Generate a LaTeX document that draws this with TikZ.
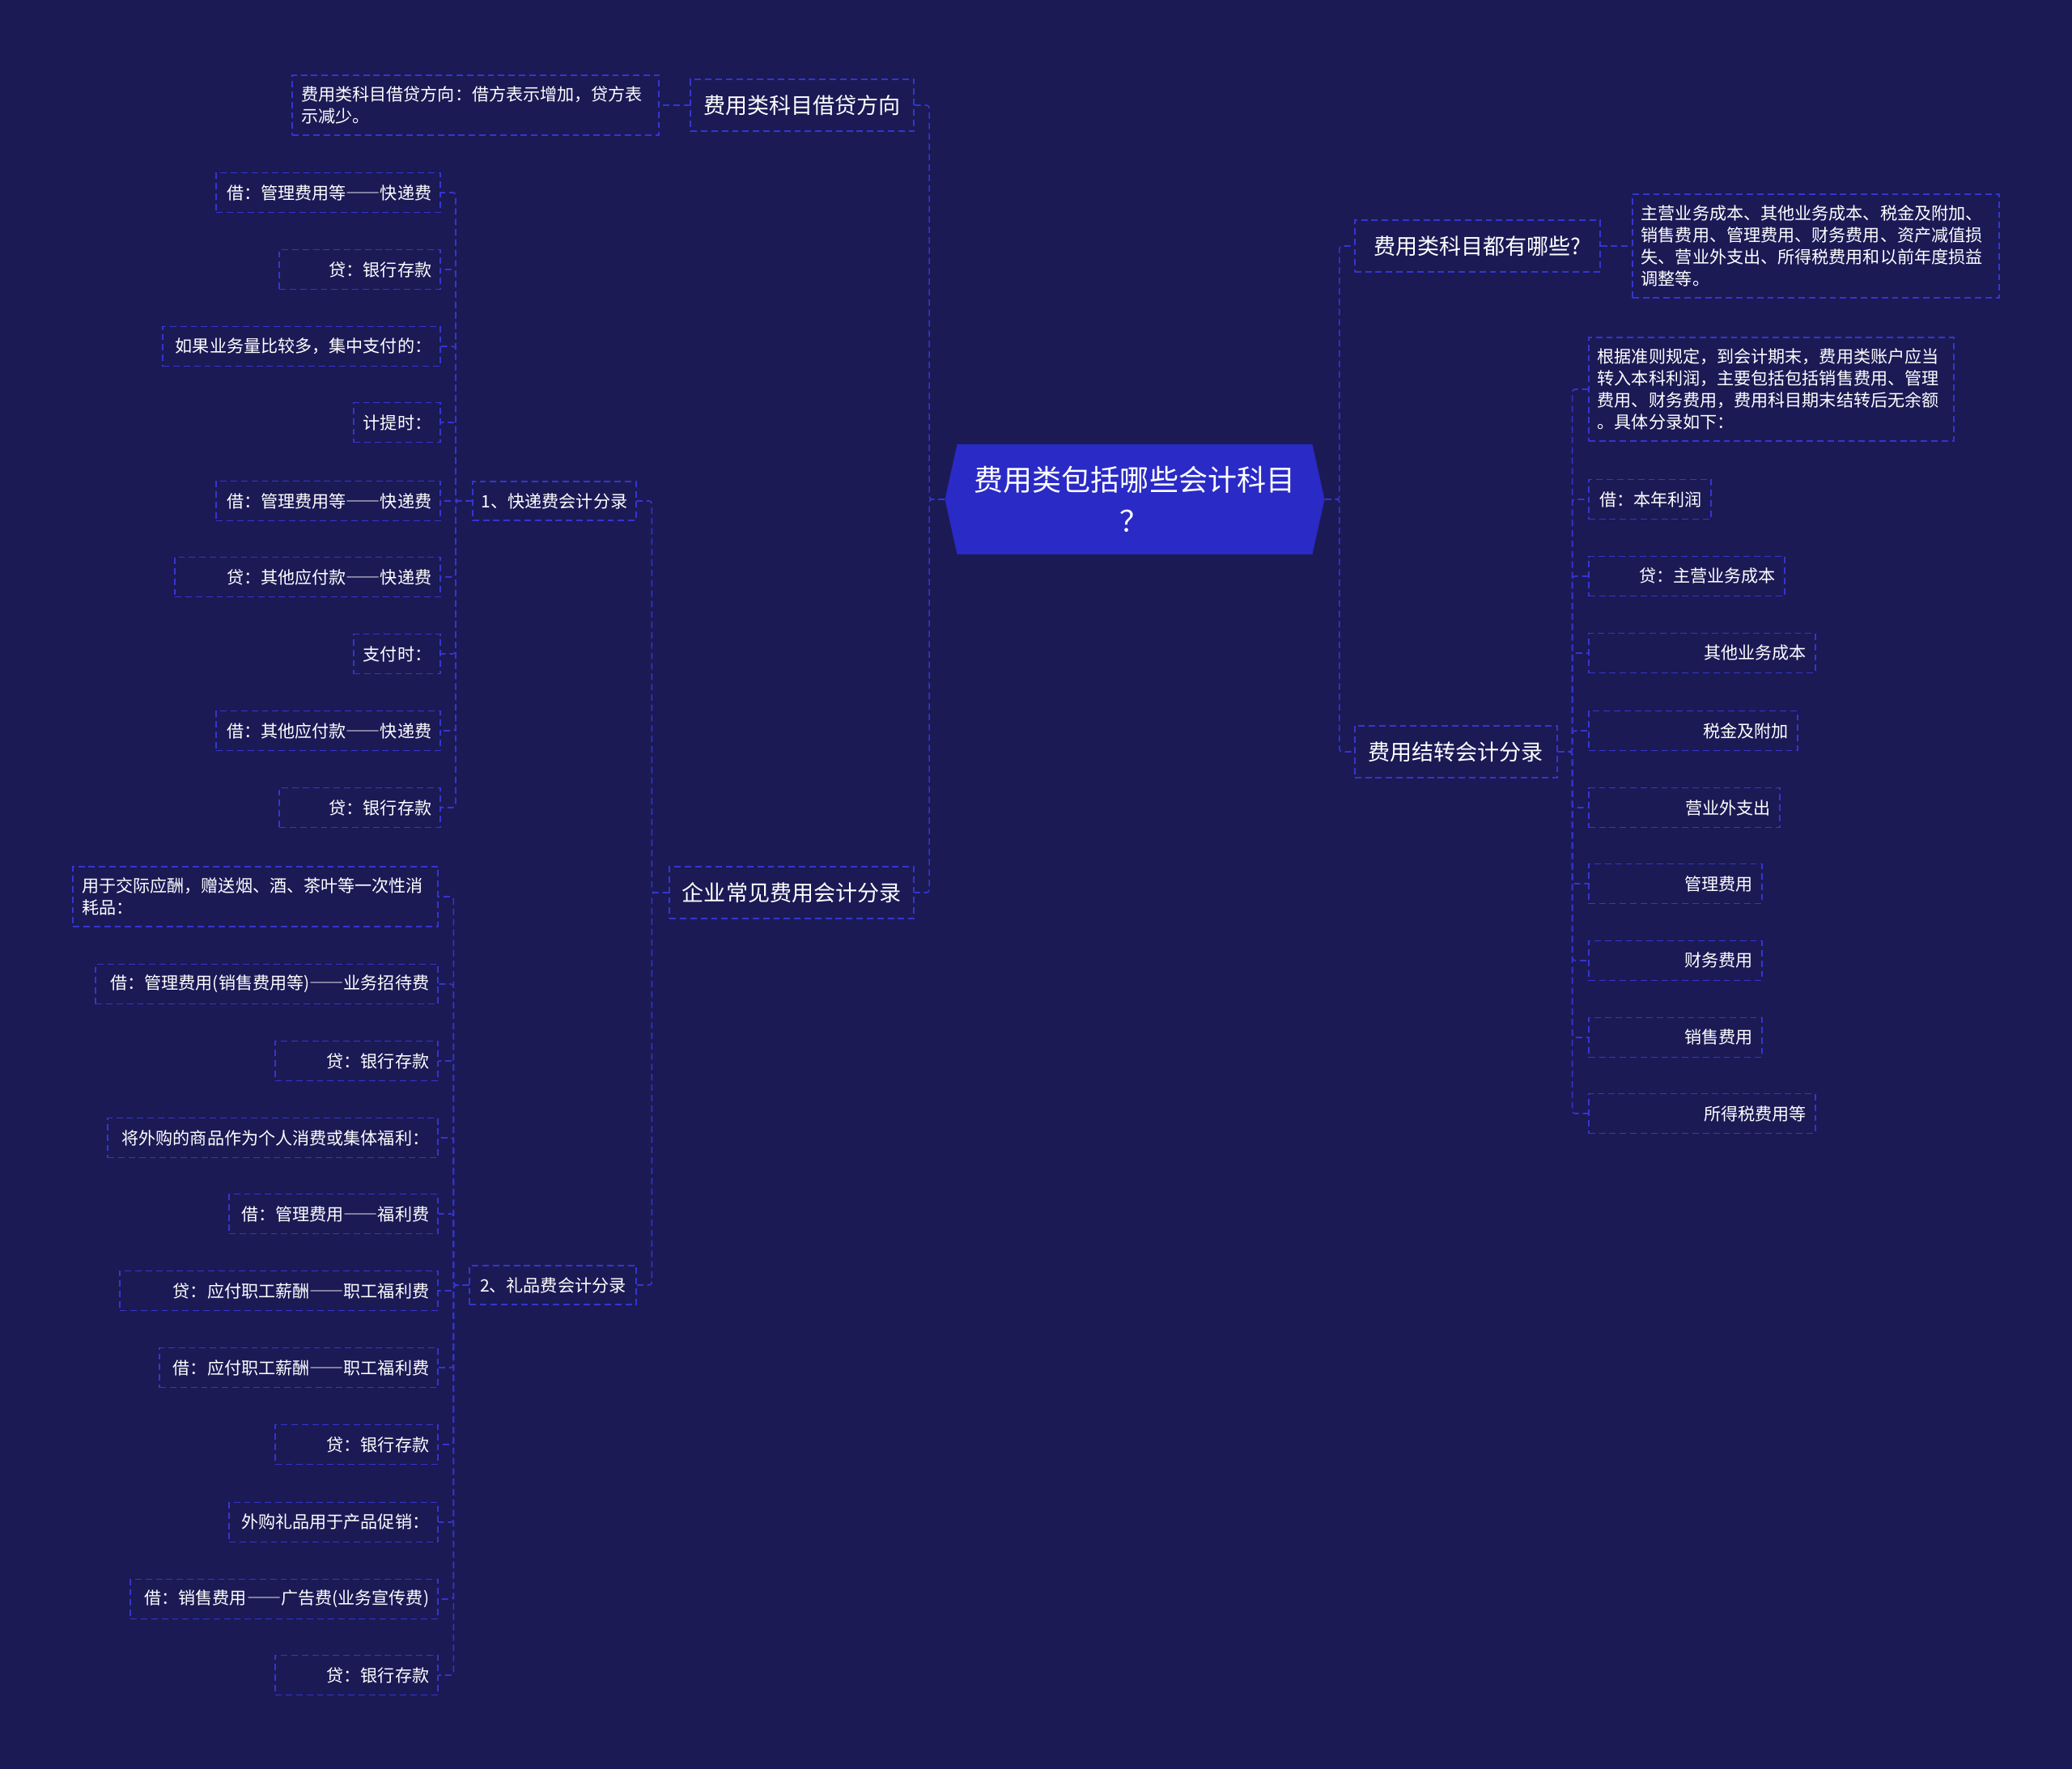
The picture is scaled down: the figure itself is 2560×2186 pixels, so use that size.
\documentclass[tikz,border=0pt]{standalone}
\usepackage{fontspec}
\setmainfont{Noto Sans CJK SC}
\usetikzlibrary{shapes.symbols, positioning}
\usepackage{xcolor}
\definecolor{bgNavy}{HTML}{1B1A55}
\definecolor{lineBlue}{HTML}{3535CF}
\definecolor{rootBlue}{HTML}{2A2AC6}
% full-width dash
\newcommand{\fwdash}{\mbox{\addfontfeature{RawFeature=+fwid}——}}
\tikzset{
    font=\fontsize{12pt}{15.3pt}\selectfont,
    % Shapes
    root/.style={signal, signal to=west and east, signal pointer angle=155,
                 fill=rootBlue, text=white, minimum width=93.8mm, minimum height=27.2mm,
                 inner sep=0pt, align=center, font=\fontsize{20.5pt}{29pt}\selectfont},
    box/.style={draw=lineBlue, line width=0.9pt, dash pattern=on 4.5pt off 2.8pt,
                text=white, inner xsep=2.2mm, inner ysep=1.2mm},
    topic/.style={box, minimum height=12.8mm, align=center, font=\fontsize{15.4pt}{19pt}\selectfont},
    sub/.style={box, minimum height=9.6mm, anchor=east, align=center},
    lleaf/.style={box, minimum height=9.8mm, anchor=east, align=right, text width=#1*0.2mm-4.4mm},
    rleaf/.style={box, minimum height=9.8mm, anchor=west, align=right, text width=#1*0.2mm-4.4mm},
    note/.style={box, inner ysep=2.8mm, align=left, text width=#1*0.2mm-4.4mm},
    % Flow
    flow/.style={draw=lineBlue, line width=0.9pt, dash pattern=on 4.5pt off 2.8pt, rounded corners=2pt}
}

\begin{document}
\begin{tikzpicture}[x=0.2mm, y=-0.2mm]

\fill[bgNavy] (0,0) rectangle (2560,2186);

\node[root] (root) at (1402,617) {费用类包括哪些会计科目\\？};

% Left branches
\node[topic, anchor=east, minimum width=276*0.2mm] (t1) at (1130,130) {费用类科目借贷方向};
\node[topic, anchor=east, minimum width=302*0.2mm] (t2) at (1130,1103) {企业常见费用会计分录};
\node[note=453, anchor=east] (dir) at (815,130) {费用类科目借贷方向：借方表示增加，贷方表\\示减少。};

\node[sub, minimum width=202*0.2mm] (kd) at (787,619) {1、快递费会计分录};
\node[sub, minimum width=206*0.2mm] (lp) at (787,1588) {2、礼品费会计分录};

\node[lleaf=277] (kd1) at (545,238) {借：管理费用等\fwdash 快递费};
\node[lleaf=199] (kd2) at (545,333) {贷：银行存款};
\node[lleaf=343] (kd3) at (545,428) {如果业务量比较多，集中支付的：};
\node[lleaf=107] (kd4) at (545,522) {计提时：};
\node[lleaf=277] (kd5) at (545,619) {借：管理费用等\fwdash 快递费};
\node[lleaf=328] (kd6) at (545,713) {贷：其他应付款\fwdash 快递费};
\node[lleaf=107] (kd7) at (545,808) {支付时：};
\node[lleaf=277] (kd8) at (545,903) {借：其他应付款\fwdash 快递费};
\node[lleaf=199] (kd9) at (545,998) {贷：银行存款};

\node[note=451, anchor=east] (lp1) at (542,1108) {用于交际应酬，赠送烟、酒、茶叶等一次性消\\耗品：};
\node[lleaf=423] (lp2) at (542,1216) {借：管理费用(销售费用等)\fwdash 业务招待费};
\node[lleaf=201] (lp3) at (542,1311) {贷：银行存款};
\node[lleaf=408] (lp4) at (542,1406) {将外购的商品作为个人消费或集体福利：};
\node[lleaf=258] (lp5) at (542,1500) {借：管理费用\fwdash 福利费};
\node[lleaf=393] (lp6) at (542,1595) {贷：应付职工薪酬\fwdash 职工福利费};
\node[lleaf=344] (lp7) at (542,1690) {借：应付职工薪酬\fwdash 职工福利费};
\node[lleaf=201] (lp8) at (542,1785) {贷：银行存款};
\node[lleaf=258] (lp9) at (542,1881) {外购礼品用于产品促销：};
\node[lleaf=380] (lp10) at (542,1976) {借：销售费用\fwdash 广告费(业务宣传费)};
\node[lleaf=201] (lp11) at (542,2070) {贷：银行存款};

% Right branches
\node[topic, anchor=west, minimum width=303*0.2mm] (t3) at (1673,304) {费用类科目都有哪些?};
\node[topic, anchor=west, minimum width=250*0.2mm] (t4) at (1673,929) {费用结转会计分录};
\node[note=453, anchor=west] (kinds) at (2016,304) {主营业务成本、其他业务成本、税金及附加、\\销售费用、管理费用、财务费用、资产减值损\\失、营业外支出、所得税费用和以前年度损益\\调整等。};

\node[note=451, anchor=west] (jz1) at (1962,481) {根据准则规定，到会计期末，费用类账户应当\\转入本科利润，主要包括包括销售费用、管理\\费用、财务费用，费用科目期末结转后无余额\\。具体分录如下：};
\node[rleaf=151] (jz2) at (1962,617) {借：本年利润};
\node[rleaf=242] (jz3) at (1962,712) {贷：主营业务成本};
\node[rleaf=280] (jz4) at (1962,807) {其他业务成本};
\node[rleaf=258] (jz5) at (1962,903) {税金及附加};
\node[rleaf=236] (jz6) at (1962,998) {营业外支出};
\node[rleaf=214] (jz7) at (1962,1092) {管理费用};
\node[rleaf=214] (jz8) at (1962,1187) {财务费用};
\node[rleaf=214] (jz9) at (1962,1282) {销售费用};
\node[rleaf=280] (jz10) at (1962,1376) {所得税费用等};

% Connectors
\draw[flow] (root.west) -- ++(-19,0) |- (t1.east);
\draw[flow] (root.west) -- ++(-19,0) |- (t2.east);
\draw[flow] (root.east) -- ++(18,0) |- (t3.west);
\draw[flow] (root.east) -- ++(18,0) |- (t4.west);

\draw[flow] (t1.west) -- (dir.east);
\draw[flow] (t2.west) -- ++(-21,0) |- (kd.east);
\draw[flow] (t2.west) -- ++(-21,0) |- (lp.east);
\draw[flow] (t3.east) -- (kinds.west);

\draw[flow] (kd.west) -- ++(-20,0) |- (kd1.east);
\draw[flow] (kd.west) -- ++(-20,0) |- (kd2.east);
\draw[flow] (kd.west) -- ++(-20,0) |- (kd3.east);
\draw[flow] (kd.west) -- ++(-20,0) |- (kd4.east);
\draw[flow] (kd.west) -- (kd5.east);
\draw[flow] (kd.west) -- ++(-20,0) |- (kd6.east);
\draw[flow] (kd.west) -- ++(-20,0) |- (kd7.east);
\draw[flow] (kd.west) -- ++(-20,0) |- (kd8.east);
\draw[flow] (kd.west) -- ++(-20,0) |- (kd9.east);

\draw[flow] (lp.west) -- ++(-19,0) |- (lp1.east);
\draw[flow] (lp.west) -- ++(-19,0) |- (lp2.east);
\draw[flow] (lp.west) -- ++(-19,0) |- (lp3.east);
\draw[flow] (lp.west) -- ++(-19,0) |- (lp4.east);
\draw[flow] (lp.west) -- ++(-19,0) |- (lp5.east);
\draw[flow] (lp.west) -- ++(-19,0) |- (lp6.east);
\draw[flow] (lp.west) -- ++(-19,0) |- (lp7.east);
\draw[flow] (lp.west) -- ++(-19,0) |- (lp8.east);
\draw[flow] (lp.west) -- ++(-19,0) |- (lp9.east);
\draw[flow] (lp.west) -- ++(-19,0) |- (lp10.east);
\draw[flow] (lp.west) -- ++(-19,0) |- (lp11.east);

\draw[flow] (t4.east) -- ++(18,0) |- (jz1.west);
\draw[flow] (t4.east) -- ++(18,0) |- (jz2.west);
\draw[flow] (t4.east) -- ++(18,0) |- (jz3.west);
\draw[flow] (t4.east) -- ++(18,0) |- (jz4.west);
\draw[flow] (t4.east) -- ++(18,0) |- (jz5.west);
\draw[flow] (t4.east) -- ++(18,0) |- (jz6.west);
\draw[flow] (t4.east) -- ++(18,0) |- (jz7.west);
\draw[flow] (t4.east) -- ++(18,0) |- (jz8.west);
\draw[flow] (t4.east) -- ++(18,0) |- (jz9.west);
\draw[flow] (t4.east) -- ++(18,0) |- (jz10.west);

\end{tikzpicture}
\end{document}
